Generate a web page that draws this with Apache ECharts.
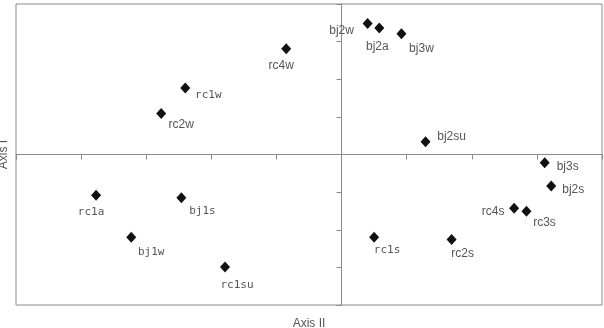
<!DOCTYPE html>
<html>
<head>
<meta charset="utf-8">
<script src="https://cdn.jsdelivr.net/npm/echarts@6/dist/echarts.min.js"></script>
<style>
  html, body { margin: 0; padding: 0; background: #fff; }
  #chart { width: 604px; height: 328px; }
</style>
</head>
<body>
<div id="chart"></div>
<script>
// Sample names and their scores on the two axes (in tick units)
const names = ['rc2w', 'rc1w', 'rc4w', 'bj2w', 'bj2a', 'bj3w', 'bj2su',
               'rc1a', 'bj1s', 'bj1w', 'rc1su', 'rc1s',
               'bj3s', 'bj2s', 'rc4s', 'rc3s', 'rc2s'];
const axis2 = [-2.77, -2.40, -0.85, 0.40, 0.58, 0.92, 1.29,
               -3.77, -2.46, -3.23, -1.79, 0.50,
               3.12, 3.22, 2.65, 2.84, 1.69];
const axis1 = [1.09, 1.77, 2.81, 3.48, 3.36, 3.21, 0.34,
               -1.08, -1.15, -2.20, -2.99, -2.20,
               -0.22, -0.84, -1.43, -1.51, -2.26];

// where each label sits, relative to its marker (text centre, px)
const labelOffsets = [[20, 11], [23, 7], [-5, 17], [-26, 7], [-2, 19], [20, 15], [26, -5],
                      [-5, 17], [21, 13], [20, 15], [12, 18], [13, 13],
                      [23, 4], [22, 4], [-21, 3], [18, 11], [11, 14]];

const GRAY = '#8a8a8a';

const points = names.map((n, i) => ({
    name: n,
    value: [axis2[i], axis1[i]],
    label: {
        offset: labelOffsets[i],
        fontFamily: n.includes('1') ? 'DejaVu Sans Mono' : 'Liberation Sans',
        fontSize: n.includes('1') ? 11 : 12
    }
}));

const chart = echarts.init(document.getElementById('chart'));
chart.setOption({
    animation: false,
    grid: {
        left: 16, right: 2, top: 4, bottom: 23,
        outerBoundsMode: 'none',
        containLabel: false,
        show: true, borderColor: GRAY, borderWidth: 1
    },
    xAxis: [
        {
            type: 'value', min: -5, max: 4, interval: 1,
            name: 'Axis II', nameLocation: 'middle', nameGap: 13,
            nameTextStyle: { color: '#555', fontFamily: 'Liberation Sans', fontSize: 12 },
            axisLine: { show: false }, axisTick: { show: false },
            axisLabel: { show: false }, splitLine: { show: false }
        },
        {
            type: 'value', min: -5, max: 4, interval: 1, position: 'bottom',
            axisLine: { show: true, onZero: true, lineStyle: { color: GRAY, width: 1 } },
            axisTick: { show: true, length: 5, lineStyle: { color: GRAY } },
            axisLabel: { show: false }, splitLine: { show: false }
        }
    ],
    yAxis: [
        {
            type: 'value', min: -4, max: 4, interval: 1,
            name: 'Axis I', nameLocation: 'middle', nameGap: 6,
            nameTextStyle: { color: '#555', fontFamily: 'Liberation Sans', fontSize: 12 },
            axisLine: { show: false }, axisTick: { show: false },
            axisLabel: { show: false }, splitLine: { show: false }
        },
        {
            type: 'value', min: -4, max: 4, interval: 1, position: 'left',
            axisLine: { show: true, onZero: true, lineStyle: { color: GRAY, width: 1 } },
            axisTick: { show: true, length: 5, lineStyle: { color: GRAY } },
            axisLabel: { show: false }, splitLine: { show: false }
        }
    ],
    series: [{
        type: 'scatter',
        xAxisIndex: 1,
        yAxisIndex: 1,
        symbol: 'diamond',
        symbolSize: [10, 11],
        itemStyle: { color: '#111', opacity: 1 },
        label: {
            show: true,
            position: 'inside',
            align: 'center',
            verticalAlign: 'middle',
            color: '#555',
            formatter: p => p.name
        },
        data: points
    }]
});
</script>
</body>
</html>
